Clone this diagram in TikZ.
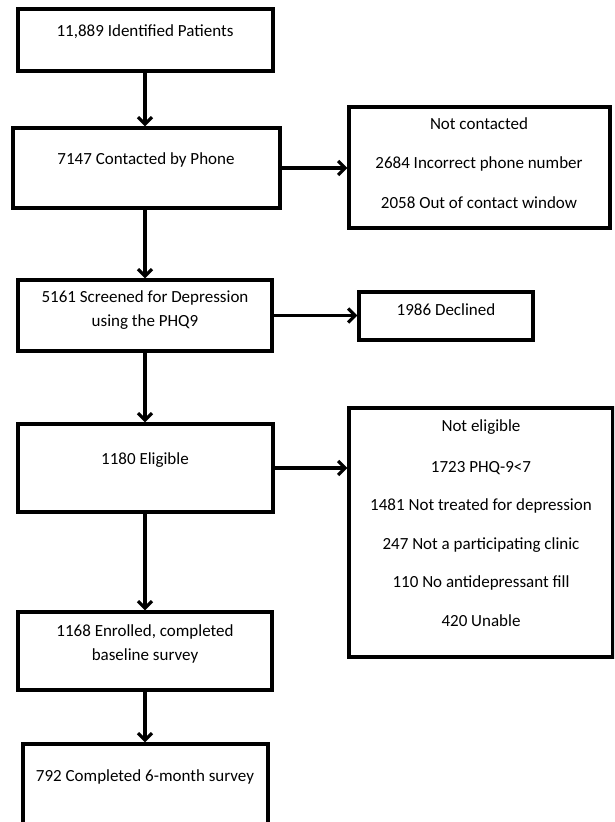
\documentclass[tikz,border=0pt]{standalone}
\usepackage{fontspec}
\setmainfont{Carlito}
\usetikzlibrary{arrows.meta}
\begin{document}
\begin{tikzpicture}[x=1pt,y=-1pt,
  box/.style={draw=black, line width=3.2pt, rectangle, inner sep=0pt},
  txt/.style={font=\fontsize{17}{20}\selectfont, inner sep=0pt, align=center},
  arr/.style={line width=3.2pt, -{Straight Barb[length=7pt,width=14pt,line width=3.2pt]}}]
\clip (0,0) rectangle (614,822);
\fill[white] (0,0) rectangle (614,822);
% boxes: centre, size
\node[box, minimum width=255pt, minimum height=62pt] (b1) at (145.5,40) {};
\node[box, minimum width=267pt, minimum height=80pt] (b2) at (146.5,168) {};
\node[box, minimum width=261pt, minimum height=121pt] (nc) at (479.5,167.5) {};
\node[box, minimum width=254pt, minimum height=71pt] (b3) at (145,315.5) {};
\node[box, minimum width=174pt, minimum height=48pt] (dc) at (446,316) {};
\node[box, minimum width=255pt, minimum height=88pt] (b4) at (145.5,468) {};
\node[box, minimum width=264pt, minimum height=249pt] (ne) at (481,532.5) {};
\node[box, minimum width=254pt, minimum height=78pt] (b5) at (145,651) {};
\node[box, minimum width=245pt, minimum height=110pt] (b6) at (145.5,799) {};
% texts
\node[txt] (t1) at (145,32) {11,889 Identified Patients};
\node[txt] (t2) at (146,160) {7147 Contacted by Phone};
\node[txt] (tnc1) at (479,124) {Not contacted};
\node[txt] (tnc2) at (479,164) {2684 Incorrect phone number};
\node[txt] (tnc3) at (479,203) {2058 Out of contact window};
\node[txt] (t3a) at (145,298) {5161 Screened for Depression};
\node[txt] (t3b) at (145,322) {using the PHQ9};
\node[txt] (tdc) at (446,310) {1986 Declined};
\node[txt] (t4) at (145,460) {1180 Eligible};
\node[txt] (tne1) at (481,427) {Not eligible};
\node[txt] (tne2) at (481,468) {1723 PHQ-9<7};
\node[txt] (tne3) at (481,506) {1481 Not treated for depression};
\node[txt] (tne4) at (481,545) {247 Not a participating clinic};
\node[txt] (tne5) at (481,583) {110 No antidepressant fill};
\node[txt] (tne6) at (481,621) {420 Unable};
\node[txt] (t5a) at (145,632) {1168 Enrolled, completed};
\node[txt] (t5b) at (145,656) {baseline survey};
\node[txt] (t6) at (145,777) {792 Completed 6-month survey};
% connectors
\draw[arr] (b1.south -| t1) -- (b2.north -| t1);
\draw[arr] (b2.south -| t1) -- (b3.north -| t1);
\draw[arr] (b3.south -| t1) -- (b4.north -| t1);
\draw[arr] (b4.south -| t1) -- (b5.north -| t1);
\draw[arr] (b5.south -| t1) -- (b6.north -| t1);
\draw[arr] (b2.east) -- (b2.east -| nc.west);
\draw[arr] (b3.east) -- (b3.east -| dc.west);
\draw[arr] (b4.east) -- (b4.east -| ne.west);
\end{tikzpicture}
\end{document}
